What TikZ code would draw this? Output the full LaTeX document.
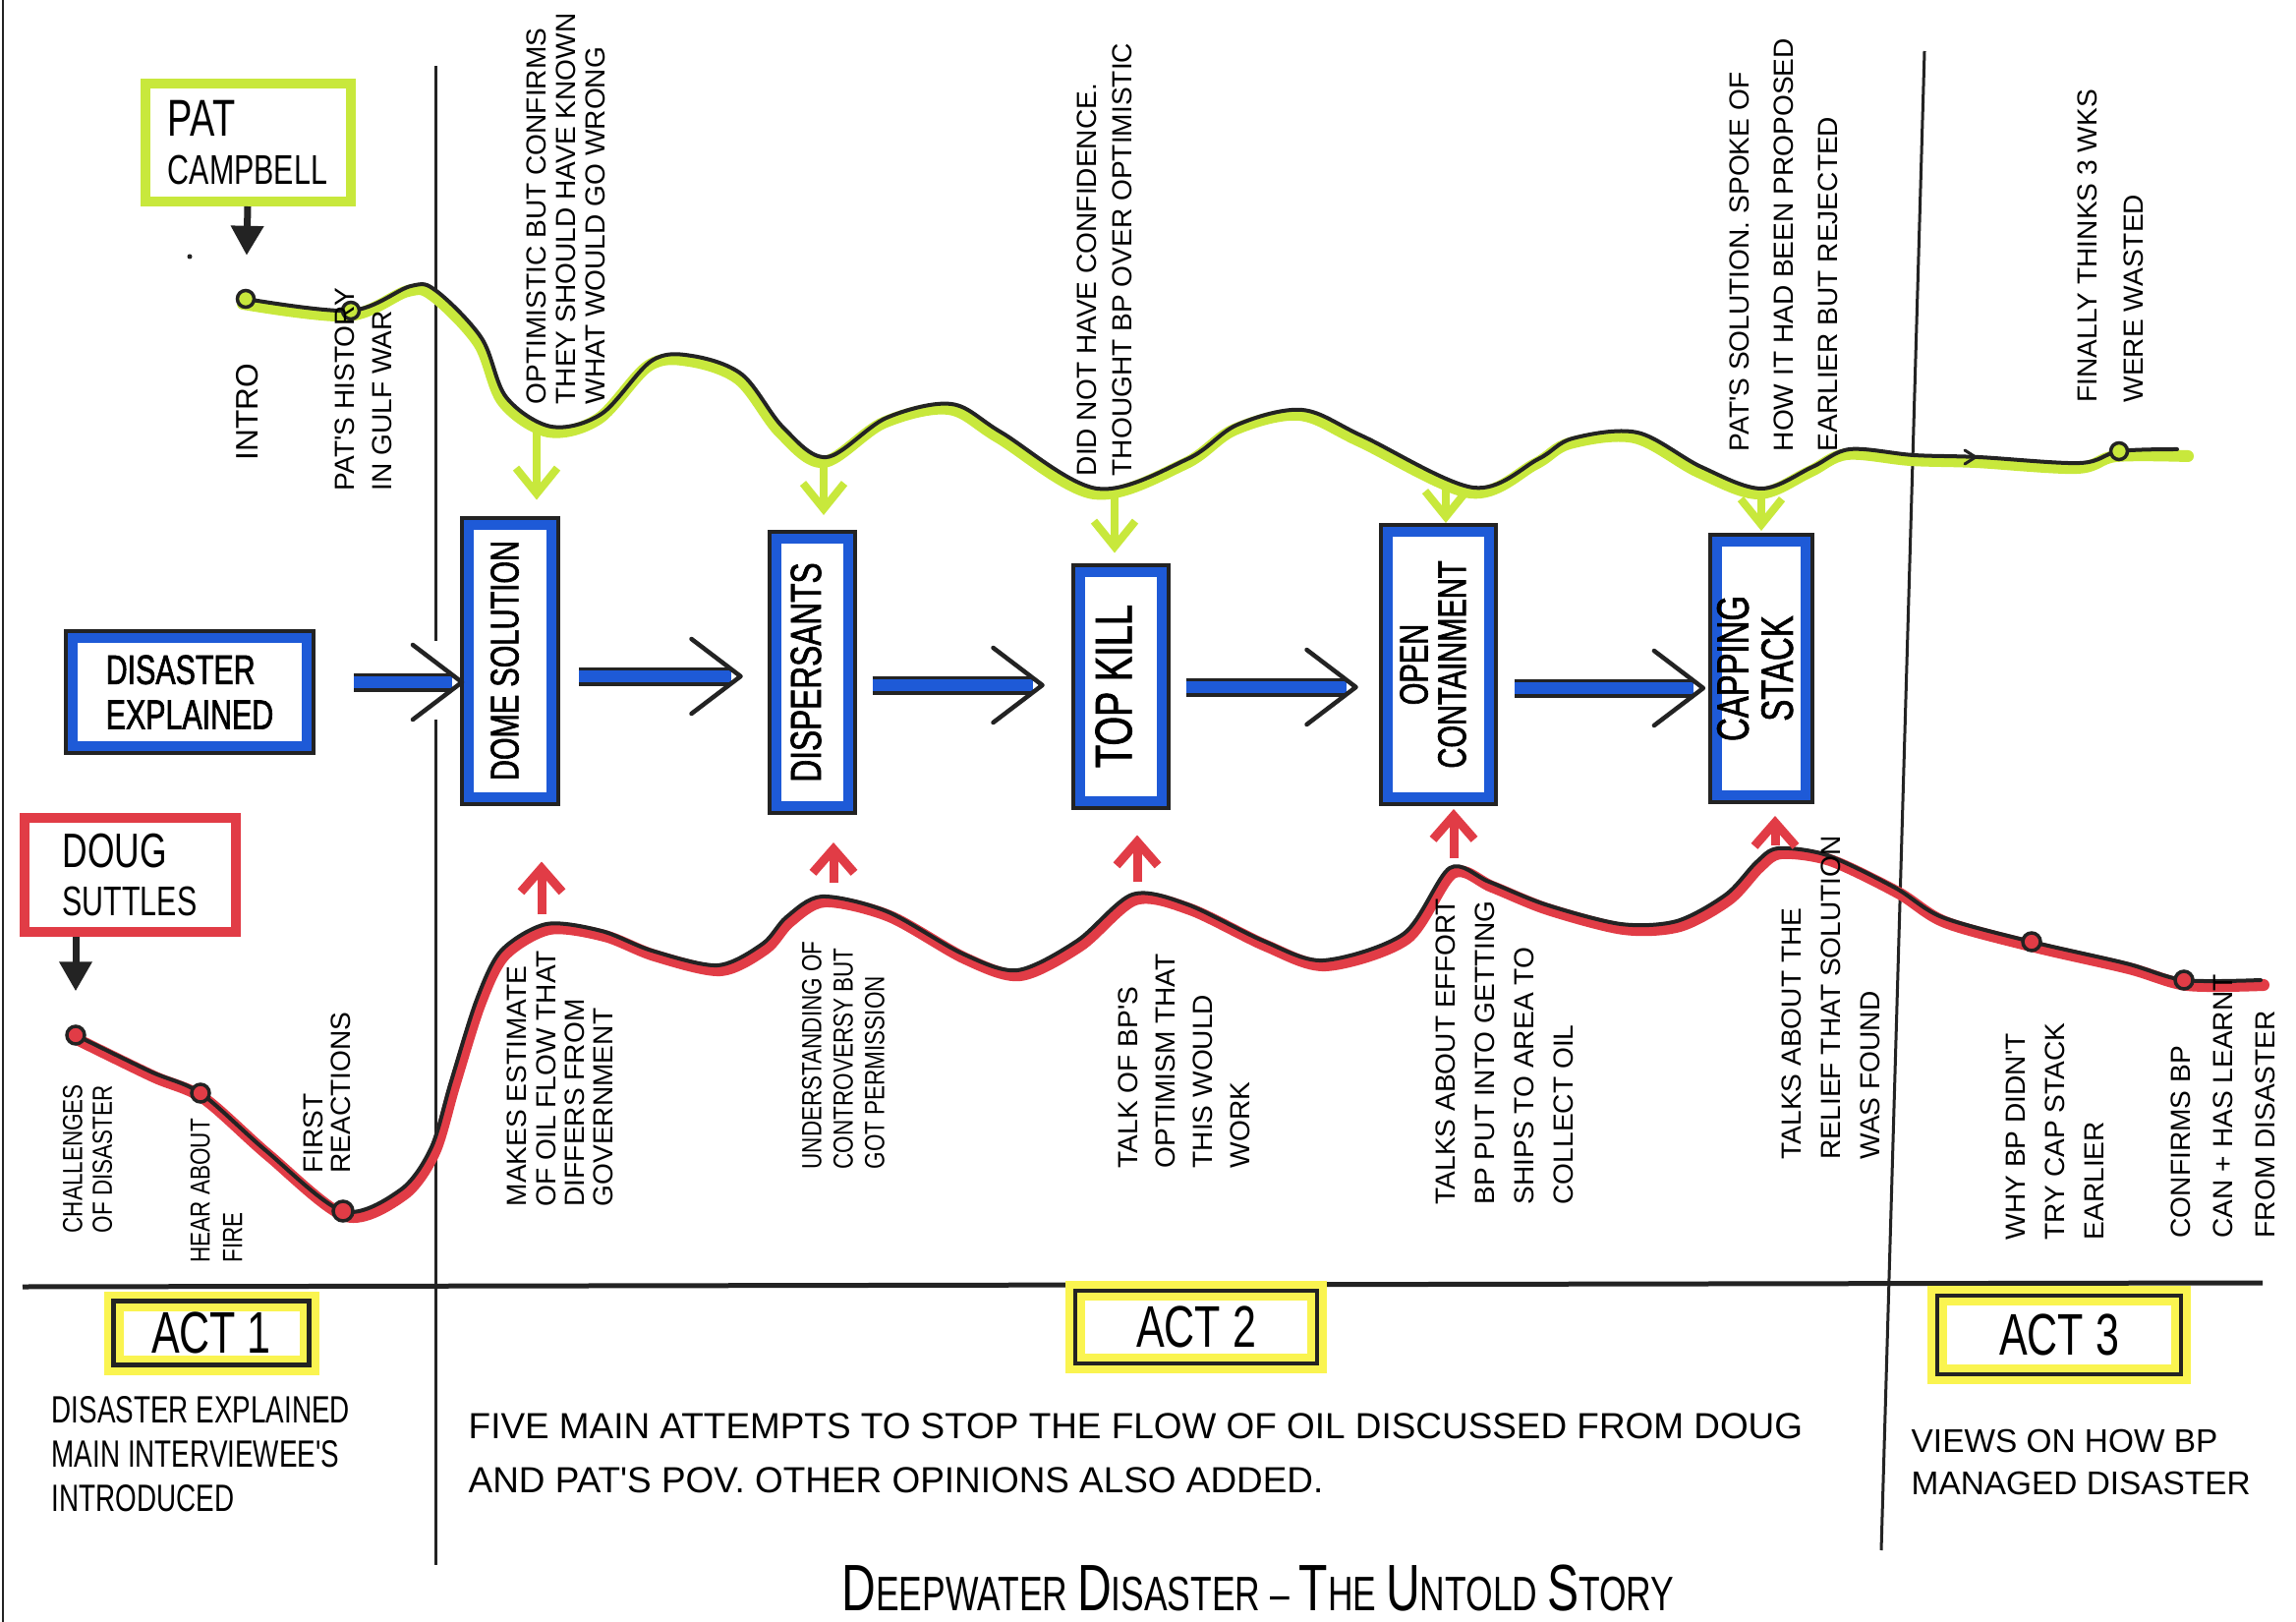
\documentclass[tikz,border=0pt]{standalone}
\usepackage{fontspec}
\setmainfont{Liberation Sans}
\newfontfamily\hand{Liberation Sans}
\newfontfamily\handm[FakeStretch=0.8]{Liberation Sans}
\newfontfamily\handn[FakeStretch=0.72]{Liberation Sans}
\newfontfamily\handb[FakeStretch=0.72,FakeBold=1.5]{Liberation Sans}
\usetikzlibrary{arrows.meta,calc}
\definecolor{bblue}{RGB}{30,90,215}
\definecolor{lime}{RGB}{200,232,60}
\definecolor{mred}{RGB}{225,60,70}
\definecolor{hyel}{RGB}{250,244,80}
\definecolor{ink}{RGB}{35,35,35}
\tikzset{
  bbox/.style={draw=bblue, line width=1mm, fill=white, inner sep=0pt,
    preaction={draw=ink, line width=1.8mm}},
  gbox/.style={draw=lime, line width=1mm, inner sep=0pt, align=left,
    font=\handn\fontsize{12}{14}\selectfont},
  rbox/.style={draw=mred, line width=1mm, inner sep=0pt, align=left,
    font=\handn\fontsize{12}{12}\selectfont},
  actbox/.style={draw=hyel, line width=2mm, inner sep=0pt,
    postaction={draw=ink, line width=0.45mm},
    font=\handn\fontsize{17}{20}\selectfont},
  lbl/.style={rotate=90, anchor=west, align=left, inner sep=0pt,
    font=\hand\fontsize{8}{#1}\selectfont},
  lbl/.default=10,
  lbln/.style={rotate=90, anchor=west, align=left, inner sep=0pt,
    font=\handm\fontsize{8}{#1}\selectfont},
  wave/.style={draw=ink, line width=0.4mm, line cap=round, line join=round},
  gband/.style={draw=lime, line width=1.2mm, line cap=round, line join=round},
  rband/.style={draw=mred, line width=1.2mm, line cap=round, line join=round},
  gdot/.style={circle, draw=ink, fill=lime, line width=0.35mm, minimum size=1.7mm, inner sep=0pt},
  rdot/.style={circle, draw=ink, fill=mred, line width=0.35mm, minimum size=1.8mm, inner sep=0pt},
  garrow/.style={draw=lime, line width=0.8mm, -{Straight Barb[length=2.6mm,width=4.2mm]}},
  rarrow/.style={draw=mred, line width=0.9mm, -{Straight Barb[length=2.4mm,width=4.2mm]}},
  karrow/.style={draw=ink, line width=0.7mm, -{Triangle[length=3mm,width=3.2mm]}},
  shaft/.style={draw=bblue, line width=1.2mm, preaction={draw=ink, line width=1.9mm}},
  chev/.style={draw=ink, line width=0.45mm, line cap=round, line join=round},
  rule/.style={draw=ink, line width=0.3mm},
  btxt/.style={inner sep=0pt, align=left}
}
\newcommand\vt[1]{\rotatebox{90}{\begin{tabular}{@{}c@{}}#1\end{tabular}}}
\newcommand\flowarr[5]{%
  \path (#1.east |- 0,#3) coordinate (fs) (#2.west |- 0,#3) coordinate (fe);
  \draw[shaft] ([xshift=#4]fs) -- ([xshift=-#5-1mm]fe);
  \draw[chev] ([xshift=-#5-5mm,yshift=3.8mm]fe) -- ([xshift=-#5]fe) -- ([xshift=-#5-5mm,yshift=-3.8mm]fe);
}
\begin{document}
\begin{tikzpicture}[x=0.1mm,y=-0.1mm]
\useasboundingbox (0,0) rectangle (2336,1650);
\fill[white] (0,0) rectangle (2336,1650);

% frame rules
\draw[rule] (3,0) -- (3,1650);
\draw[rule] (443,67) -- (443,652);
\draw[rule] (443,732) -- (443,1592);
\draw[rule] (1958,52) -- (1914,1577);
\draw[rule, line width=0.5mm] (23,1309) -- (2302,1305);

% Pat Campbell wave
\draw[gband, xshift=-0.3mm, yshift=-0.5mm] plot[smooth, tension=0.55] coordinates {
 (250,304) (357,316) (418,291) (444,296) (490,344) (515,404) (561,434) (612,421) (663,367) (704,362) (755,381) (797,435) (841,465) (902,425) (968,411) (1019,440) (1116,497) (1208,467) (1259,432) (1325,417) (1387,444) (1499,496) (1565,467) (1600,446) (1666,440) (1731,475) (1792,497) (1844,475) (1882,457) (1947,463) (2013,465) (2116,471) (2156,459) (2229,459)};
\draw[wave] plot[smooth, tension=0.55] coordinates {
 (250,304) (357,316) (418,291) (444,296) (490,344) (515,404) (561,434) (612,421) (663,367) (704,362) (755,381) (797,435) (841,465) (902,425) (968,411) (1019,440) (1116,497) (1208,467) (1259,432) (1325,417) (1387,444) (1499,496) (1565,467) (1600,446) (1666,440) (1731,475) (1792,497) (1844,475) (1882,457) (1947,463) (2013,465) (2116,471) (2156,459) (2215,457)};
\draw[chev, line width=0.3mm] (1999,458) -- (2010,465) -- (1999,472);

% Doug Suttles wave
\draw[rband, xshift=0.3mm, yshift=-0.5mm] plot[smooth, tension=0.5] coordinates {
 (77,1053) (153,1090) (204,1112) (270,1170) (349,1232) (408,1210) (439,1167) (459,1100) (485,1017) (510,967) (556,940) (612,947) (663,967) (730,982) (776,960) (800,933) (836,912) (902,927) (979,970) (1035,987) (1096,957) (1152,910) (1208,920) (1285,957) (1346,977) (1428,950) (1475,883) (1515,897) (1572,920) (1649,940) (1706,937) (1756,910) (1787,877) (1809,863) (1859,870) (1928,903) (1976,933) (2067,958) (2163,980) (2222,997) (2300,997)};
\draw[wave] plot[smooth, tension=0.5] coordinates {
 (77,1053) (153,1090) (204,1112) (270,1170) (349,1232) (408,1210) (439,1167) (459,1100) (485,1017) (510,967) (556,940) (612,947) (663,967) (730,982) (776,960) (800,933) (836,912) (902,927) (979,970) (1035,987) (1096,957) (1152,910) (1208,920) (1285,957) (1346,977) (1428,950) (1475,883) (1515,897) (1572,920) (1649,940) (1706,937) (1756,910) (1787,877) (1809,863) (1859,870) (1928,903) (1976,933) (2067,958) (2163,980) (2222,997) (2300,997)};

% dots on the waves
\node[gdot] (pi) at (250,304) {};
\node[gdot] (ph) at (357,316) {};
\node[gdot] (pf) at (2156,459) {};
\node[rdot] (dc1) at (77,1053) {};
\node[rdot] (dc2) at (204,1112) {};
\node[rdot, minimum size=2mm] (dc3) at (349,1232) {};
\node[rdot] (dc4) at (2067,958) {};
\node[rdot] (dc5) at (2222,997) {};
\fill[ink] (193,261) circle (0.25mm);

% interviewee boxes
\node[gbox, minimum width=20.9mm, minimum height=12mm] (pat) at (252,145)
  {{\fontsize{15}{15}\selectfont PAT}\\CAMPBELL};
\node[rbox, minimum width=21.5mm, minimum height=11.6mm] (doug) at (132,890)
  {{\fontsize{14}{15}\selectfont DOUG}\\[0.6mm]SUTTLES};
\draw[karrow, shorten >=3.4mm] (pat.south) -- (pi);
\draw[karrow, shorten >=3.4mm] (dc1 |- doug.south) -- (dc1);

% blue boxes
\node[bbox, minimum width=23.8mm, minimum height=11mm, align=left,
  font=\handb\fontsize{12}{13}\selectfont] (dis) at (193,704) {DISASTER\\EXPLAINED};
\node[bbox, minimum width=8.4mm, minimum height=27.7mm,
  font=\handb\fontsize{11.5}{12}\selectfont] (dome) at (519,672) {\vt{DOME SOLUTION}};
\node[bbox, minimum width=7.3mm, minimum height=27.2mm,
  font=\handb\fontsize{12.5}{13}\selectfont] (disp) at (826,684) {\vt{DISPERSANTS}};
\node[bbox, minimum width=8.3mm, minimum height=23.3mm,
  font=\handb\fontsize{15}{16}\selectfont] (top) at (1140,698) {\vt{TOP KILL}};
\node[bbox, minimum width=10.3mm, minimum height=27mm,
  font=\handb\fontsize{11.5}{10}\selectfont] (oc) at (1463,676) {\vt{OPEN\\CONTAINMENT}};
\node[bbox, minimum width=8.9mm, minimum height=25.8mm,
  font=\handb\fontsize{13}{12.5}\selectfont] (cap) at (1792,680) {\vt{CAPPING\\STACK}};

% flow arrows between boxes
\flowarr{dis}{dome}{694}{4.3mm}{0.2mm}
\flowarr{dome}{disp}{688}{2.3mm}{3.1mm}
\flowarr{disp}{top}{697}{2.0mm}{3.3mm}
\flowarr{top}{oc}{699}{2.0mm}{2.7mm}
\flowarr{oc}{cap}{700}{2.1mm}{0.9mm}

% green arrows from Pat's line
\coordinate (g1) at (546,438);
\coordinate (g2) at (838,471);
\coordinate (g3) at (1134,503);
\coordinate (g4) at (1471,498);
\coordinate (g5) at (1792,500);
\draw[garrow, shorten >=2mm] (g1) -- (g1 |- dome.north);
\draw[garrow, shorten >=1.9mm] (g2) -- (g2 |- disp.north);
\draw[garrow, shorten >=1.4mm] (g3) -- (g3 |- top.north);
\draw[garrow, shorten >=0.4mm] (g4) -- (g4 |- oc.north);
\draw[garrow, shorten >=0.6mm] (g5) -- (g5 |- cap.north);

% red arrows from Doug's line
\coordinate (r1) at (551,930);
\coordinate (r2) at (848,898);
\coordinate (r3) at (1157,897);
\coordinate (r4) at (1479,873);
\coordinate (r5) at (1806,860);
\draw[rarrow, shorten >=6.1mm] (r1) -- (r1 |- dome.south);
\draw[rarrow, shorten >=3.2mm] (r2) -- (r2 |- disp.south);
\draw[rarrow, shorten >=3mm] (r3) -- (r3 |- top.south);
\draw[rarrow, shorten >=0.7mm] (r4) -- (r4 |- oc.south);
\draw[rarrow, shorten >=1.6mm] (r5) -- (r5 |- cap.south);

% Pat's comments
\node[lbl, font=\hand\fontsize{9}{10}\selectfont] (intro) at (252,469) {INTRO};
\node[lbl=10.8] (hist) at (370,500) {PAT'S HISTORY\\IN GULF WAR};
\node[lbl=8.6] (opt) at (576,412) {OPTIMISTIC BUT CONFIRMS\\THEY SHOULD HAVE KNOWN\\WHAT WOULD GO WRONG};
\node[lbl=10.2] (did) at (1124,485) {DID NOT HAVE CONFIDENCE.\\THOUGHT BP OVER OPTIMISTIC};
\node[lbl=12.8] (sol) at (1815,460) {PAT'S SOLUTION. SPOKE OF\\HOW IT HAD BEEN PROPOSED\\EARLIER BUT REJECTED};
\node[lbl=13.4] (fin) at (2147,410) {FINALLY THINKS 3 WKS\\WERE WASTED};

% Doug's comments
\node[lbln=8.6] (chal) at (89,1255) {CHALLENGES\\OF DISASTER};
\node[lbln=9.4] (hear) at (220,1285) {HEAR ABOUT\\FIRE};
\node[lbl=8] (first) at (333,1194) {FIRST\\REACTIONS};
\node[lbl=8.3] (makes) at (570,1228) {MAKES ESTIMATE\\OF OIL FLOW THAT\\DIFFERS FROM\\GOVERNMENT};
\node[lbln=9.1] (und) at (858,1190) {UNDERSTANDING OF\\CONTROVERSY BUT\\GOT PERMISSION};
\node[lbl=10.8] (talk) at (1205,1189) {TALK OF BP'S\\OPTIMISM THAT\\THIS WOULD\\WORK};
\node[lbl=11.4] (eff) at (1531,1226) {TALKS ABOUT EFFORT\\BP PUT INTO GETTING\\SHIPS TO AREA TO\\COLLECT OIL};
\node[lbl=11.4] (rel) at (1863,1180) {TALKS ABOUT THE\\RELIEF THAT SOLUTION\\WAS FOUND};
\node[lbl=11.4] (why) at (2091,1262) {WHY BP DIDN'T\\TRY CAP STACK\\EARLIER};
\node[lbl=12.2] (conf) at (2262,1260) {CONFIRMS BP\\CAN + HAS LEARNT\\FROM DISASTER};

% Acts
\node[actbox, minimum width=19.9mm, minimum height=6.5mm] (act1) at (215,1356) {ACT 1};
\node[actbox, minimum width=24.6mm, minimum height=7.4mm] (act2) at (1217,1350) {ACT 2};
\node[actbox, minimum width=24.8mm, minimum height=8mm] (act3) at (2095,1358) {ACT 3};

\node[btxt, anchor=base west, font=\handn\fontsize{11}{12.8}\selectfont] (t1) at (52,1537)
  {DISASTER EXPLAINED\\MAIN INTERVIEWEE'S\\INTRODUCED};
\node[btxt, anchor=base west, font=\hand\fontsize{10.5}{15.5}\selectfont] (t2) at (476,1518)
  {FIVE MAIN ATTEMPTS TO STOP THE FLOW OF OIL DISCUSSED FROM DOUG\\AND PAT'S POV. OTHER OPINIONS ALSO ADDED.};
\node[btxt, anchor=base west, font=\hand\fontsize{9.5}{12}\selectfont] (t3) at (1944,1520)
  {VIEWS ON HOW BP\\MANAGED DISASTER};

\node[inner sep=0pt, anchor=base, font=\handn\fontsize{14}{16}\selectfont] (title) at (1280,1638)
  {{\fontsize{19}{19}\selectfont D}EEPWATER {\fontsize{19}{19}\selectfont D}ISASTER – {\fontsize{19}{19}\selectfont T}HE {\fontsize{19}{19}\selectfont U}NTOLD {\fontsize{19}{19}\selectfont S}TORY};
\end{tikzpicture}
\end{document}
